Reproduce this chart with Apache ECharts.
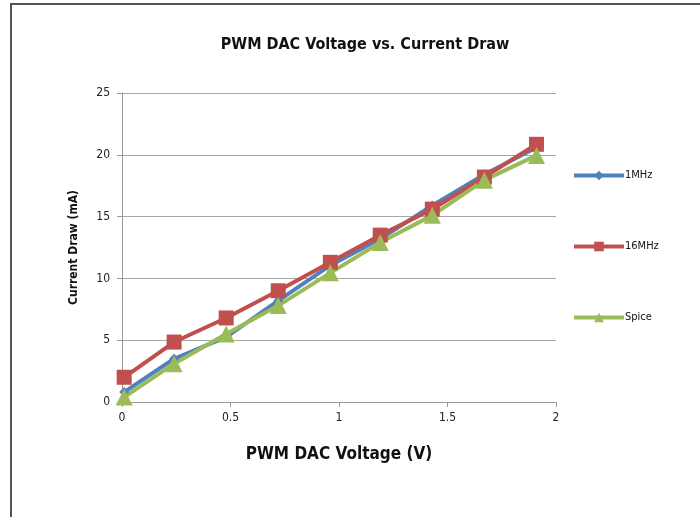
<!DOCTYPE html>
<html>
<head>
<meta charset="utf-8">
<script src="https://cdn.jsdelivr.net/npm/echarts@6/dist/echarts.min.js"></script>
<style>
  html, body { margin: 0; padding: 0; background: #fff; }
  #chart { width: 700px; height: 517px; }
</style>
</head>
<body>
<div id="chart"></div>
<script>
// PWM DAC voltage (V) at each measurement point
const voltage = [0.01, 0.24, 0.48, 0.72, 0.96, 1.19, 1.43, 1.67, 1.91];
// current draw (mA) per series
const mhz1  = [0.8, 3.5, 5.25, 8.2, 11.05, 13.2, 15.9, 18.4, 20.6];
const mhz16 = [2.0, 4.85, 6.8, 9.0, 11.3, 13.5, 15.6, 18.2, 20.85];
const spice = [0.4, 3.1, 5.5, 7.8, 10.45, 12.9, 15.1, 17.95, 19.95];
const xTicks = [0, 0.5, 1, 1.5, 2];
const yTicks = [0, 5, 10, 15, 20, 25];

const font = '"Liberation Sans Narrow", "DejaVu Sans Condensed", "Liberation Sans", sans-serif';

function pairs(ys) {
    return ys.map((y, i) => [voltage[i], y]);
}

function lineSeries(name, ys, color, symbol, size) {
    return {
        name: name,
        type: 'line',
        data: pairs(ys),
        symbol: symbol,
        symbolSize: size,
        lineStyle: { width: 4, color: color },
        itemStyle: { color: color },
        emphasis: { disabled: true },
        animation: false
    };
}

const chart = echarts.init(document.getElementById('chart'));
chart.setOption({
    backgroundColor: '#fff',
    textStyle: { fontFamily: font },
    title: {
        text: 'PWM DAC Voltage vs. Current Draw',
        left: 360,
        textAlign: 'center',
        top: 32,
        textStyle: { fontSize: 16, fontWeight: 'bold', color: '#111', fontFamily: font }
    },
    graphic: [{
        type: 'rect',
        shape: { x: 11, y: 4, width: 720, height: 540 },
        style: { fill: 'none', stroke: '#555', lineWidth: 2 },
        silent: true
    }],
    legend: {
        orient: 'vertical',
        left: 567,
        top: 165,
        itemWidth: 50,
        itemHeight: 12,
        itemGap: 60,
        lineStyle: { width: 4 },
        itemStyle: { borderWidth: 0 },
        textStyle: { fontSize: 11, color: '#111', fontFamily: font, padding: [0, 0, 0, -4] },
        data: ['1MHz', '16MHz', 'Spice']
    },
    grid: { left: 122, right: 144, top: 93, bottom: 115 },
    xAxis: {
        type: 'value',
        min: 0,
        max: 2,
        interval: 0.5,
        name: 'PWM DAC Voltage (V)',
        nameLocation: 'middle',
        nameGap: 44,
        nameTextStyle: { fontSize: 17, fontWeight: 'bold', color: '#111', fontFamily: font },
        axisLine: { lineStyle: { color: '#999' } },
        axisTick: { show: true, length: 5, lineStyle: { color: '#999' } },
        axisLabel: {
            fontSize: 12, color: '#222', margin: 10,
            formatter: v => xTicks.includes(v) ? String(v) : ''
        },
        splitLine: { show: false }
    },
    yAxis: {
        type: 'value',
        min: 0,
        max: 25,
        interval: 5,
        name: 'Current Draw (mA)',
        nameLocation: 'middle',
        nameGap: 42,
        nameTextStyle: { fontSize: 12, fontWeight: 'bold', color: '#111', fontFamily: font },
        axisLine: { show: true, lineStyle: { color: '#999' } },
        axisTick: { show: true, length: 5, lineStyle: { color: '#999' } },
        axisLabel: {
            fontSize: 12, color: '#222', margin: 12,
            formatter: v => yTicks.includes(v) ? String(v) : ''
        },
        splitLine: { lineStyle: { color: '#a6a6a6', width: 1 } }
    },
    series: [
        lineSeries('1MHz', mhz1, '#4f81bd', 'diamond', 10),
        lineSeries('16MHz', mhz16, '#c0504d', 'rect', 15),
        lineSeries('Spice', spice, '#9bbb59', 'triangle', 17)
    ]
});
</script>
</body>
</html>
